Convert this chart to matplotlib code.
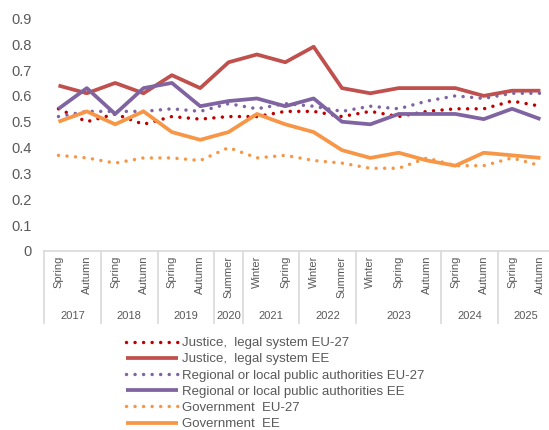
import matplotlib
matplotlib.use("Agg")
import matplotlib.pyplot as plt
import matplotlib.transforms as mtransforms

# category axis: season within survey year
seasons = ["Spring", "Autumn", "Spring", "Autumn", "Spring", "Autumn", "Summer",
           "Winter", "Spring", "Winter", "Summer", "Winter", "Spring", "Autumn",
           "Spring", "Autumn", "Spring", "Autumn"]
years = ["2017", "2018", "2019", "2020", "2021", "2022", "2023", "2024", "2025"]
year_counts = [2, 2, 2, 1, 2, 2, 3, 2, 2]

# trust values
justice_eu = [0.55, 0.50, 0.53, 0.49, 0.52, 0.51, 0.52, 0.52, 0.54, 0.54, 0.52, 0.54, 0.52, 0.54, 0.55, 0.55, 0.58, 0.56]
justice_ee = [0.64, 0.61, 0.65, 0.61, 0.68, 0.63, 0.73, 0.76, 0.73, 0.79, 0.63, 0.61, 0.63, 0.63, 0.63, 0.60, 0.62, 0.62]
regional_eu = [0.52, 0.54, 0.54, 0.54, 0.55, 0.54, 0.57, 0.55, 0.57, 0.56, 0.54, 0.56, 0.55, 0.58, 0.60, 0.59, 0.61, 0.61]
regional_ee = [0.55, 0.63, 0.53, 0.63, 0.65, 0.56, 0.58, 0.59, 0.56, 0.59, 0.50, 0.49, 0.53, 0.53, 0.53, 0.51, 0.55, 0.51]
gov_eu = [0.37, 0.36, 0.34, 0.36, 0.36, 0.35, 0.40, 0.36, 0.37, 0.35, 0.34, 0.32, 0.32, 0.36, 0.33, 0.33, 0.36, 0.33]
gov_ee = [0.50, 0.54, 0.49, 0.54, 0.46, 0.43, 0.46, 0.53, 0.49, 0.46, 0.39, 0.36, 0.38, 0.35, 0.33, 0.38, 0.37, 0.36]

plt.rcParams["font.family"] = ["Liberation Sans", "DejaVu Sans"]

W, H = 549, 430
fig = plt.figure(figsize=(W / 100, H / 100), dpi=100)
# axes run a bit past the right edge, like in the original export
ax = fig.add_axes([44.3 / W, 1 - 251 / H, 510.3 / W, 232.7 / H])

x = list(range(len(seasons)))
dot = (0, (0.01, 2.45))
series = [
    (justice_eu, "Justice,  legal system EU-27", "#C00000", dot, 2.5),
    (justice_ee, "Justice,  legal system EE", "#C0504D", "-", 2.7),
    (regional_eu, "Regional or local public authorities EU-27", "#8064A2", dot, 2.5),
    (regional_ee, "Regional or local public authorities EE", "#8064A2", "-", 2.7),
    (gov_eu, "Government  EU-27", "#F79646", dot, 2.5),
    (gov_ee, "Government  EE", "#F79646", "-", 2.7),
]
for vals, label, color, ls, lw in series:
    ax.plot(x, vals, color=color, linestyle=ls, linewidth=lw, label=label,
            dash_capstyle="round", solid_capstyle="butt", clip_on=False)

ax.set_xlim(-0.5, len(seasons) - 0.5)
ax.set_ylim(0, 0.9)
ax.set_yticks([i / 10 for i in range(10)])
ax.set_yticklabels(["0"] + [f"{i / 10:.1f}" for i in range(1, 10)])
ax.tick_params(axis="y", length=0, pad=9, labelsize=10.5, labelcolor="#595959")

ax.set_xticks(x)
ax.set_xticklabels(seasons, rotation=90, va="top", ha="center")
ax.tick_params(axis="x", length=0, pad=3.5, labelsize=8, labelcolor="#595959")

for s in ["top", "right", "left"]:
    ax.spines[s].set_visible(False)
ax.spines["bottom"].set_color("#D9D9D9")
ax.spines["bottom"].set_linewidth(1.2)

# year level of the category axis: separators and labels
trans = mtransforms.blended_transform_factory(ax.transData, ax.transAxes)
sep_depth = -71.7 / 232.7
year_y = -65 / 232.7
start = -0.5
for yr, n in zip(years, year_counts):
    ax.plot([start, start], [0, sep_depth], color="#D9D9D9", linewidth=1.2,
            transform=trans, clip_on=False)
    ax.text(start + n / 2, year_y, yr, transform=trans, ha="center", va="center",
            fontsize=8, color="#595959")
    start += n
ax.plot([start, start], [0, sep_depth], color="#D9D9D9", linewidth=1.2,
        transform=trans, clip_on=False)

fig.legend(loc="upper left", bbox_to_anchor=(126 / W, 1 - 337 / H),
           frameon=False, fontsize=9.5, handlelength=3.92, handletextpad=0.3,
           labelspacing=0.3, borderpad=0, borderaxespad=0, labelcolor="#595959")

fig.savefig("out.png", dpi=100)
